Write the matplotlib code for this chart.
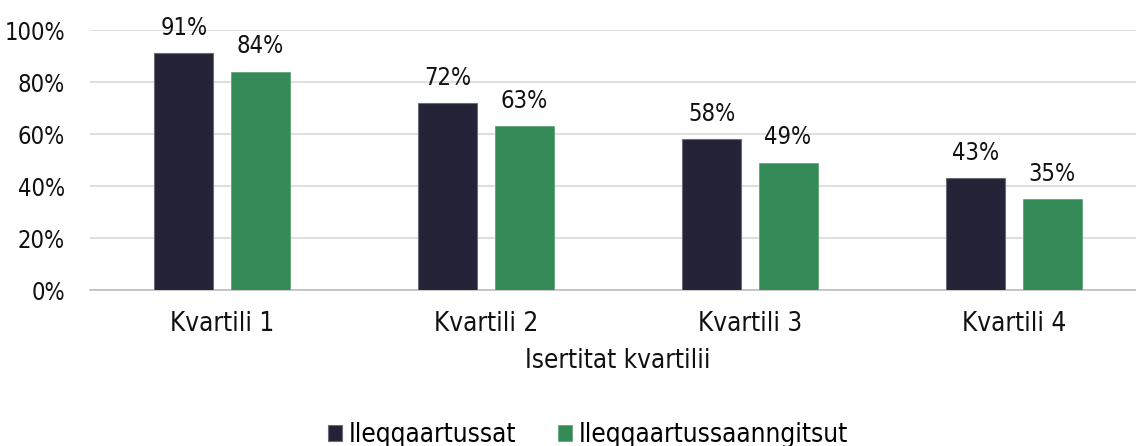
import matplotlib
matplotlib.use("Agg")
import matplotlib.pyplot as plt
from matplotlib import font_manager as fm
import numpy as np

categories = ["Kvartili 1", "Kvartili 2", "Kvartili 3", "Kvartili 4"]
series_names = ["Ileqqaartussat", "Ileqqaartussaanngitsut"]
ileqqaartussat = [91, 72, 58, 43]
ileqqaartussaanngitsut = [84, 63, 49, 35]
yticks = [0, 20, 40, 60, 80, 100]
xlabel = "Isertitat kvartilii"

cond = [f.name for f in fm.fontManager.ttflist if "Condensed" in f.fname and "DejaVuSans" in f.fname.replace(" ", "")]
plt.rcParams['font.family'] = ['DejaVu Sans']
if cond:
    plt.rcParams['font.stretch'] = 'condensed'
    fs, fsn = 18.7, 17.0
else:
    fs, fsn = 16.5, 15.5

fig = plt.figure(figsize=(11.36, 4.46), dpi=100)
ax = fig.add_axes([90/1136, (446-290)/446, 1056/1136, 260/446])

x = np.arange(len(categories))
w = 0.2235
off = 0.144
b1 = ax.bar(x - off, ileqqaartussat, w, color="#232236", edgecolor="#6b6b7a", linewidth=0.8, label=series_names[0], zorder=3)
b2 = ax.bar(x + off, ileqqaartussaanngitsut, w, color="#358B57", edgecolor="#58a070", linewidth=0.5, label=series_names[1], zorder=3)

for bars, vals in ((b1, ileqqaartussat), (b2, ileqqaartussaanngitsut)):
    for r, v in zip(bars, vals):
        ax.annotate(f"{v}%", (r.get_x() + r.get_width()/2, v), xytext=(0, 9.5),
                    textcoords="offset points", ha="center", va="bottom",
                    fontsize=fsn, color="#111111", annotation_clip=False)

ax.set_xlim(-0.5, len(categories) - 0.5)
ax.set_ylim(0, 100)
ax.set_yticks(yticks)
ax.set_yticklabels([f"{t}%" for t in yticks], fontsize=fsn, color="#111111")
ax.set_xticks(x)
ax.set_xticklabels(categories, fontsize=fs, color="#111111")
ax.tick_params(axis="both", length=0)
ax.tick_params(axis="y", pad=18)
ax.tick_params(axis="x", pad=15)
ax.yaxis.grid(True, color="#d9d9d9", linewidth=1.2, zorder=0)
ax.set_axisbelow(True)
for s in ["top", "right", "left"]:
    ax.spines[s].set_visible(False)
ax.spines["bottom"].set_color("#bfbfbf")
ax.spines["bottom"].set_linewidth(1.2)
ax.set_xlabel(xlabel, fontsize=fs, color="#111111", labelpad=8)

fig.legend(handles=[b1, b2], labels=series_names, loc="center", bbox_to_anchor=(588/1136, 1 - 435/446),
           ncol=2, frameon=False, fontsize=fs, handlelength=0.55, handleheight=0.55,
           handletextpad=0.25, columnspacing=1.6)

fig.savefig("out.png", dpi=100)
